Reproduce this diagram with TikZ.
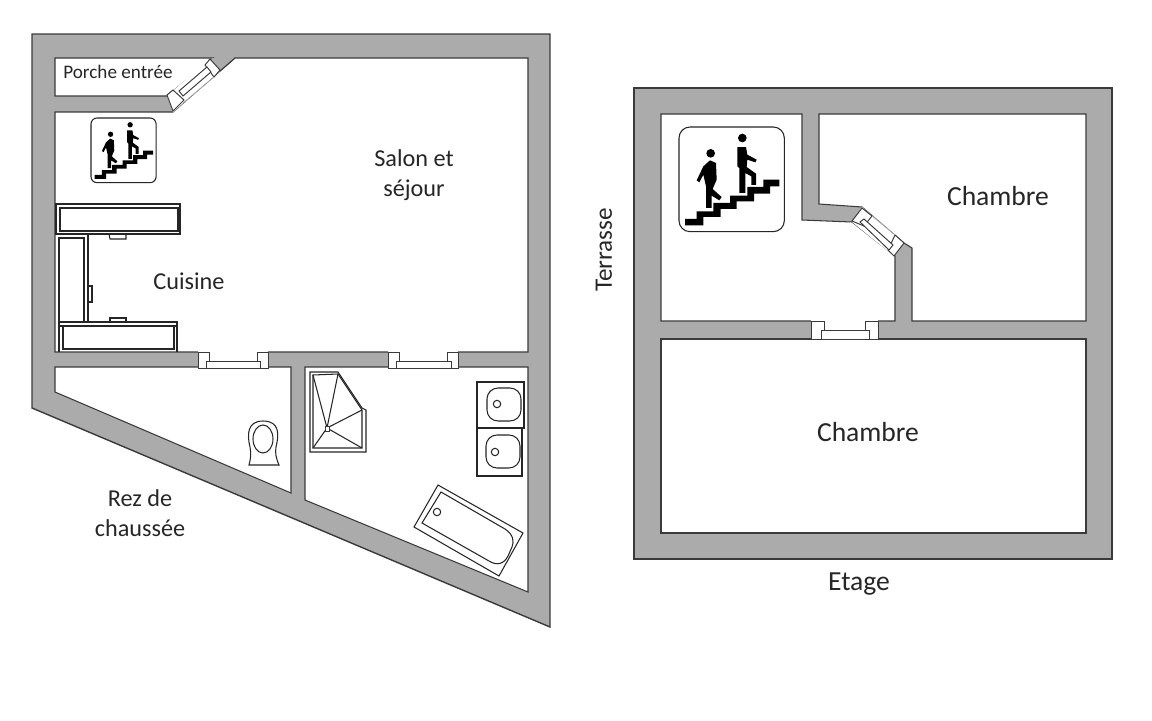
\documentclass[tikz,border=0pt]{standalone}
\usepackage{fontspec}
\setmainfont{Carlito}
\definecolor{wallgrey}{HTML}{ABABAB}
\definecolor{planline}{HTML}{3A3A3A}
\tikzset{
    wall/.style={fill=wallgrey, draw=planline, line width=0.8pt, line join=miter},
    room/.style={fill=white, draw=planline, line width=0.6pt},
    fitting/.style={draw=black!85, line width=0.6pt},
    joinery/.style={fill=white, draw=planline, line width=0.55pt},
    planlabel/.style={font=\fontsize{13.8}{17}\selectfont, text=black!85, inner sep=0pt, align=center},
    biglabel/.style={planlabel, font=\fontsize{15.7}{19}\selectfont}
}
% stair sign: corner x, corner y, scale, corner radius
\newcommand{\stairsign}[4]{
    \draw[fitting, rounded corners=#4, fill=white] (#1,#2) rectangle ++(#3*316,#3*314);
    \begin{scope}[shift={(#1,#2)}, x=#3*0.02cm, y=-#3*0.02cm, xshift=-#3*1.14cm, yshift=#3*1.04cm]
        \fill[black] (75,347) -- (75,328) -- (110,328) -- (110,305) -- (160,305) -- (160,280) -- (210,280) -- (210,258)
            -- (262,258) -- (262,232) -- (310,232) -- (310,210) -- (358,210) -- (358,230) -- (330,230) -- (330,252)
            -- (282,252) -- (282,275) -- (230,275) -- (230,298) -- (182,298) -- (182,322) -- (130,322) -- (130,347) -- cycle;
        \fill[black] (152,131) circle[radius=13];
        \fill[black] (247,85) circle[radius=13];
        \fill[black] (150,152) -- (168,160) -- (170,210) -- (158,238) -- (185,262) -- (178,272) -- (155,258) -- (155,295)
            -- (138,295) -- (138,230) -- (130,195) -- (118,218) -- (110,212) -- (130,170) -- cycle;
        \fill[black] (232,112) -- (258,112) -- (262,135) -- (290,150) -- (286,158) -- (262,150) -- (260,172) -- (288,192)
            -- (288,226) -- (274,226) -- (274,200) -- (256,190) -- (256,250) -- (238,250) -- (238,175) -- (232,170) -- cycle;
    \end{scope}
}
\begin{document}
\begin{tikzpicture}[x=0.02cm, y=-0.02cm]
    \useasboundingbox (0,0) rectangle (1152,720);

    % rez de chaussee
    \draw[wall] (32,34) -- (550,34) -- (550,627) -- (32,408) -- cycle;
    \draw[room] (55,58) -- (213,58) -- (167,96) -- (55,96) -- cycle;
    \draw[room] (55,112) -- (173,112) -- (235,58) -- (528,58) -- (528,352) -- (55,352) -- cycle;
    \draw[room] (55,367) -- (291,367) -- (291,493) -- (55,392) -- cycle;
    \draw[room] (305,367) -- (528,367) -- (528,592) -- (305,500) -- cycle;

    % porte du porche
    \fill[wallgrey] (213,58) -- (235,58) -- (220,71) -- (208,60) -- cycle;
    \draw[planline, line width=0.6pt] (235,58) -- (220,71);
    \fill[white] (167,96) -- (208,60) -- (220,71) -- (173,112) -- cycle;
    \draw[joinery] (167,95) -- (173,90) -- (184,100) -- (173,111) -- cycle;
    \draw[joinery] (205,65) -- (210,59) -- (220,70) -- (214,77) -- cycle;
    \draw[joinery] (179,91) -- (207,67) -- (211,72) -- (183,96) -- cycle;
    \draw[draw=black!35, line width=0.4pt] (183,103) -- (214,77);

    % portes du bas
    \fill[white] (198,351) rectangle (268,367);
    \draw[joinery] (198,352) -- (209,352) -- (209,361) -- (206,361) -- (206,368) -- (198,368) -- cycle;
    \draw[joinery] (268,352) -- (257,352) -- (257,361) -- (260,361) -- (260,368) -- (268,368) -- cycle;
    \draw[joinery] (206,361) rectangle (260,368);
    \fill[white] (388,351) rectangle (458,367);
    \draw[joinery] (388,352) -- (399,352) -- (399,361) -- (396,361) -- (396,368) -- (388,368) -- cycle;
    \draw[joinery] (458,352) -- (447,352) -- (447,361) -- (451,361) -- (451,368) -- (458,368) -- cycle;
    \draw[joinery] (396,361) rectangle (451,368);

    % cuisine
    \draw[fitting] (56,204) rectangle (180,234);
    \draw[fitting] (60,208) rectangle (178,231);
    \draw[fitting] (59,322) -- (59,238) -- (84,238) -- (84,322);
    \draw[fitting] (88,234) -- (88,322);
    \draw[fitting] (109,234) -- (110,239) -- (126,239) -- (126,234);
    \draw[fitting] (88,286) rectangle (92,302);
    \draw[fitting] (110,322) -- (110,318) -- (126,318) -- (126,322);
    \draw[fitting] (59,352) -- (59,322) -- (177,322) -- (177,352);
    \draw[fitting] (59,326) -- (177,326);
    \draw[fitting] (63,326) -- (63,349) -- (174,349) -- (174,326);

    % wc
    \draw[fitting] (249,465) -- (279,465) .. controls (276,458) and (275,453) .. (276,447)
        .. controls (279,435) and (280,421) .. (263,421) .. controls (247,421) and (247,435) .. (250,447)
        .. controls (251,453) and (251,458) .. (249,465) -- cycle;
    \draw[fitting] (263,439) ellipse[x radius=10, y radius=14];

    % escalier en colimacon
    \draw[fitting] (310,372) -- (338,372) -- (362,408) -- (366,410) -- (366,452) -- (310,452) -- cycle;
    \draw[fitting] (313,375) -- (338,374) -- (362,410) -- (362,448) -- (313,448) -- cycle;
    \coordinate (hub) at (327,428);
    \foreach \spoke in {(313,375), (338,374), (362,410), (362,448), (313,448)} {
        \draw[fitting] (hub) -- \spoke;
    }
    \draw[joinery] (325,426) rectangle (329,431);

    % lavabos
    \draw[fitting] (477,382) rectangle (524,428);
    \draw[fitting] (477,428) rectangle (522,476);
    \draw[fitting, line width=1pt] (477,428) -- (524,428);
    \draw[fitting, rounded corners=2.2mm] (487,388) rectangle (521,421);
    \draw[fitting, rounded corners=2.2mm] (486,435) rectangle (520,468);
    \draw[fitting] (497,404) circle[radius=3.7];
    \draw[fitting] (495,452) circle[radius=3.7];

    % baignoire
    \draw[fitting] (438,485) -- (523,533) -- (499,576) -- (414,527) -- cycle;
    \draw[fitting] (441,492) -- (505,529) .. controls (514,535) and (514,542) .. (512,547)
        -- (508,556) .. controls (504,564) and (497,566) .. (489,561) -- (422,523) -- cycle;
    \draw[fitting] (437,512) circle[radius=3.7];

    % etage
    \draw[wall] (634,88) rectangle (1112,559);
    \draw[room] (661,114) -- (802,114) -- (802,220) -- (852,222) -- (895,256) -- (895,321) -- (661,321) -- cycle;
    \draw[room] (819,114) -- (1086,114) -- (1086,321) -- (912,321) -- (912,248) -- (904,243) -- (862,207) -- (819,204) -- cycle;
    \draw[room] (661,339) rectangle (1086,533);

    % porte de la chambre
    \fill[white] (852,222) -- (862,207) -- (904,243) -- (894,256) -- cycle;
    \draw[joinery] (852,221) -- (862,208) -- (872,216) -- (864,226) -- cycle;
    \draw[joinery] (895,235) -- (904,243) -- (894,256) -- (888,250) -- cycle;
    \draw[joinery] (860,222) -- (864,219) -- (893,245) -- (889,250) -- cycle;
    \draw[draw=black!35, line width=0.4pt] (872,216) -- (895,235);

    % porte du palier
    \fill[white] (811,320) rectangle (878,338);
    \draw[joinery] (811,321) -- (824,321) -- (824,330) -- (821,330) -- (821,339) -- (811,339) -- cycle;
    \draw[joinery] (878,321) -- (865,321) -- (865,330) -- (869,330) -- (869,339) -- (878,339) -- cycle;
    \draw[joinery] (821,330) rectangle (869,339);

    % pictogrammes
    \stairsign{91}{118}{0.206}{1.2mm}
    \stairsign{679}{127}{0.3333}{2.2mm}

    % textes
    \node (porche) [planlabel, font=\fontsize{10.9}{13}\selectfont] at (118,72) {Porche entrée};
    \node (salon) [planlabel] at (414,175) {Salon et\\séjour};
    \node (cuisine) [planlabel] at (189,281) {Cuisine};
    \node (rez) [planlabel] at (140,513) {Rez de\\chaussée};
    \node (chambrehaut) [biglabel] at (998,196) {Chambre};
    \node (chambrebas) [biglabel] at (868,432) {Chambre};
    \node (terrasse) [planlabel, font=\fontsize{14.3}{17}\selectfont, rotate=90] at (604,250) {Terrasse};
    \node (etage) [biglabel] at (859,584) {Etage};
\end{tikzpicture}
\end{document}
